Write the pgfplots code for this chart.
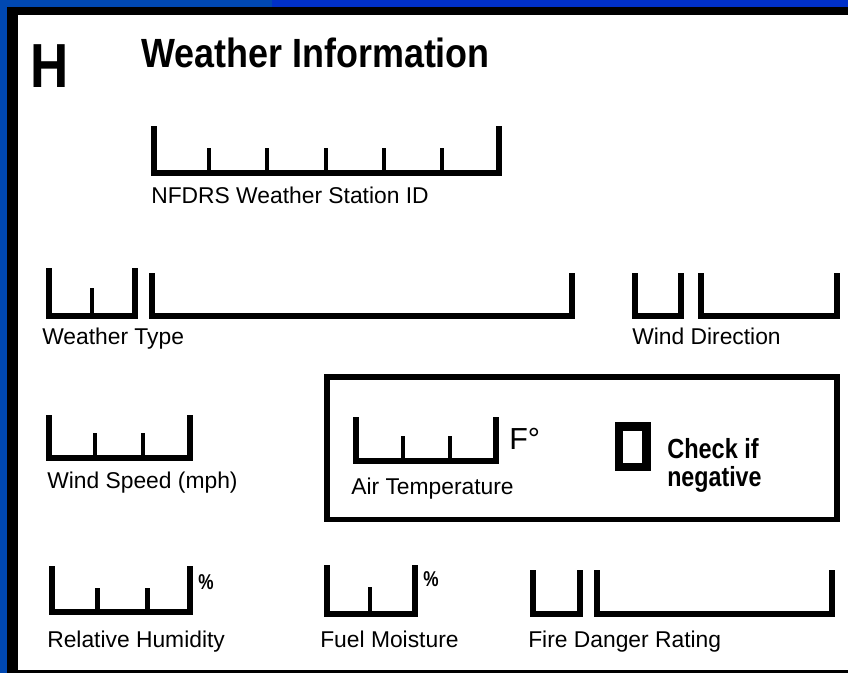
\documentclass[border=0pt]{standalone}
\usepackage{pgfplots}
\pgfplotsset{compat=1.18}
\usepackage{graphicx}
\usepackage{fontspec}
\setmainfont{Liberation Sans}
\definecolor{leftblue}{RGB}{0,72,178}
\definecolor{rightblue}{RGB}{0,48,200}
\pgfplotsset{
  br/.style={black, line width=3.8pt, line join=miter, mark=none},
  tk/.style={black, line width=2.9pt, mark=none},
}
\tikzset{lab/.style={anchor=base west, inner sep=0pt, font=\fontsize{16.5pt}{18pt}\selectfont}}
\begin{document}
\begin{tikzpicture}
\begin{axis}[scale only axis, width=8.48in, height=6.73in,
  xmin=0, xmax=848, ymin=0, ymax=673, y dir=reverse, hide axis, clip=true]
% background and frame
\addplot[draw=none, fill=white] coordinates {(0,0)(848,0)(848,673)(0,673)} -- cycle;
\addplot[draw=none, fill=leftblue] coordinates {(0,0)(272,0)(272,7)(0,7)} -- cycle;
\addplot[draw=none, fill=rightblue] coordinates {(272,0)(848,0)(848,7)(272,7)} -- cycle;
\addplot[draw=none, fill=leftblue] coordinates {(0,0)(7,0)(7,673)(0,673)} -- cycle;
\addplot[draw=none, fill=black] coordinates {(7,7)(848,7)(848,15)(7,15)} -- cycle;
\addplot[draw=none, fill=black] coordinates {(7,7)(18,7)(18,673)(7,673)} -- cycle;
\addplot[draw=none, fill=black] coordinates {(7,670)(848,670)(848,673)(7,673)} -- cycle;
% NFDRS Weather Station ID
\addplot[br] coordinates {(154,126)(154,173)(499,173)(499,126)};
\addplot[tk] coordinates {(209,173)(209,148)};
\addplot[tk] coordinates {(267,173)(267,148)};
\addplot[tk] coordinates {(326,173)(326,148)};
\addplot[tk] coordinates {(384,173)(384,148)};
\addplot[black, line width=2.2pt, mark=none] coordinates {(442,173)(442,148)};
% Weather Type
\addplot[br] coordinates {(49,268)(49,316)(135,316)(135,268)};
\addplot[tk] coordinates {(92,316)(92,288)};
\addplot[br] coordinates {(152,273)(152,316)(572,316)(572,273)};
% Wind Direction
\addplot[br] coordinates {(635,273)(635,316)(681,316)(681,273)};
\addplot[br] coordinates {(701,273)(701,316)(837,316)(837,273)};
% Wind Speed
\addplot[br] coordinates {(49,415)(49,458)(190,458)(190,415)};
\addplot[tk] coordinates {(95,458)(95,433)};
\addplot[tk] coordinates {(143,458)(143,433)};
% Temperature box
\addplot[black, line width=4pt, line join=miter, mark=none] coordinates {(327,377)(837,377)(837,519.5)(327,519.5)} -- cycle;
\addplot[br] coordinates {(356,417)(356,461)(496,461)(496,417)};
\addplot[tk] coordinates {(403,461)(403,436)};
\addplot[tk] coordinates {(450,461)(450,436)};
\addplot[black, line width=5.9pt, line join=miter, mark=none] coordinates {(619,426.5)(646.5,426.5)(646.5,467)(619,467)} -- cycle;
% Relative Humidity
\addplot[br] coordinates {(52,566)(52,612)(190,612)(190,566)};
\addplot[tk] coordinates {(97.5,612)(97.5,588)};
\addplot[tk] coordinates {(147.5,612)(147.5,588)};
% Fuel Moisture
\addplot[br] coordinates {(327,565)(327,614)(415,614)(415,565)};
\addplot[tk] coordinates {(370,614)(370,587)};
% Fire Danger Rating
\addplot[br] coordinates {(533,570)(533,614)(580,614)(580,570)};
\addplot[br] coordinates {(597,570)(597,614)(832,614)(832,570)};
% texts
\node[anchor=base west, inner sep=0pt, font=\bfseries\fontsize{45pt}{48pt}\selectfont] at (axis cs:30,87) {\scalebox{0.85}[1]{H}};
\node[anchor=base west, inner sep=0pt, font=\bfseries\fontsize{29.5pt}{32pt}\selectfont] at (axis cs:141,67) {\scalebox{0.88}[1]{Weather Information}};
\node[lab] at (axis cs:151,203) {NFDRS Weather Station ID};
\node[lab] at (axis cs:42,344) {Weather Type};
\node[lab] at (axis cs:632,344) {Wind Direction};
\node[lab] at (axis cs:47,488) {Wind Speed (mph)};
\node[lab] at (axis cs:351,494) {Air Temperature};
\node[anchor=base west, inner sep=0pt, font=\fontsize{22pt}{24pt}\selectfont] at (axis cs:509,449) {F°};
\node[anchor=base west, inner sep=0pt, font=\bfseries\fontsize{20pt}{22pt}\selectfont] at (axis cs:667,458) {\scalebox{0.85}[1]{Check if}};
\node[anchor=base west, inner sep=0pt, font=\bfseries\fontsize{20pt}{22pt}\selectfont] at (axis cs:667,486) {\scalebox{0.84}[1]{negative}};
\node[anchor=base west, inner sep=0pt, font=\bfseries\fontsize{15.5pt}{17pt}\selectfont] at (axis cs:198,589) {\scalebox{0.8}[1]{\%}};
\node[anchor=base west, inner sep=0pt, font=\bfseries\fontsize{15.5pt}{17pt}\selectfont] at (axis cs:423,586) {\scalebox{0.8}[1]{\%}};
\node[lab] at (axis cs:47,647) {Relative Humidity};
\node[lab] at (axis cs:320,647) {Fuel Moisture};
\node[lab] at (axis cs:528,647) {Fire Danger Rating};
\end{axis}
\pgfresetboundingbox
\path (current axis.south west) rectangle (current axis.north east);
\end{tikzpicture}
\end{document}
